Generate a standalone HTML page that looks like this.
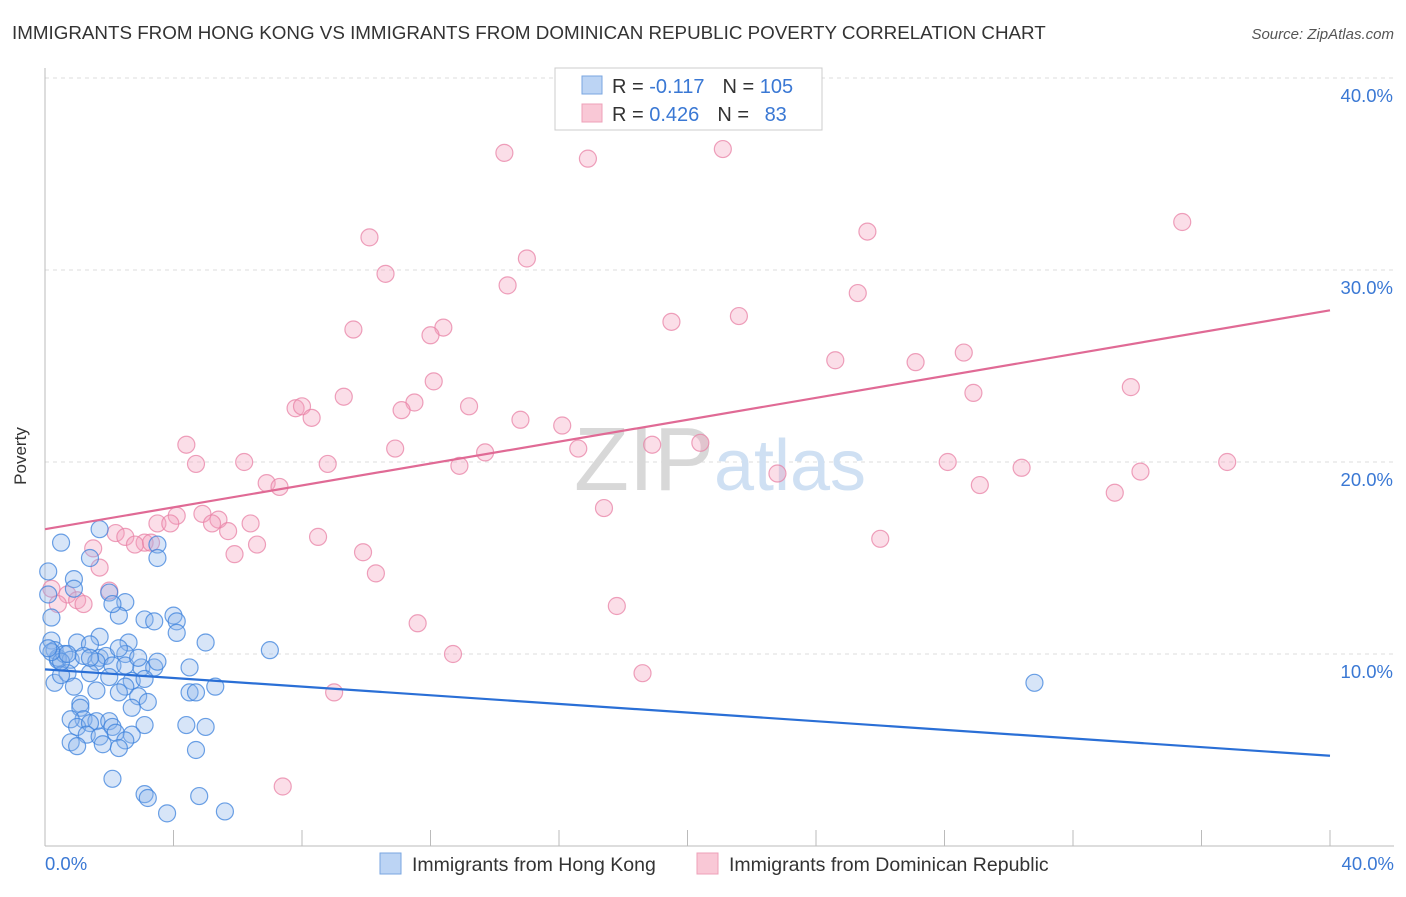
<!DOCTYPE html>
<html><head><meta charset="utf-8"><style>
body{margin:0;background:#fff;font-family:"Liberation Sans",sans-serif;}
svg text{font-family:"Liberation Sans",sans-serif;}
</style></head><body>
<svg width="1406" height="892" xmlns="http://www.w3.org/2000/svg" id="chart">
<text x="12" y="39" font-size="18.8" fill="#333">IMMIGRANTS FROM HONG KONG VS IMMIGRANTS FROM DOMINICAN REPUBLIC POVERTY CORRELATION CHART</text>
<text x="1394" y="39" font-size="15" fill="#555" text-anchor="end" font-style="italic">Source: ZipAtlas.com</text>
<g id="grid"></g>
<text x="720" y="490" font-size="90" fill="#ddd" text-anchor="middle" font-family="Liberation Serif"><tspan fill="#d8d8d8">ZIP</tspan><tspan fill="#cfe0f3" font-family="Liberation Sans" font-size="72">atlas</tspan></text>
<line x1="45" y1="68" x2="45" y2="846" stroke="#bbb"/>
<line x1="45" y1="846" x2="1394" y2="846" stroke="#bbb"/>
<g id="xticks"></g>
<g id="pts"></g>
<g id="trends"></g>
<text x="26" y="456" font-size="17" fill="#333" text-anchor="middle" transform="rotate(-90 26 456)">Poverty</text>
<text x="45" y="870" font-size="18.5" fill="#3a78d4">0.0%</text>
<text x="1394" y="870" font-size="18.5" fill="#3a78d4" text-anchor="end">40.0%</text>
<g>
<rect x="555" y="68" width="267" height="62" fill="#fff" stroke="#ccc"/>
<rect x="582" y="76" width="20" height="18" fill="#bcd4f4" stroke="#7aa6e0"/>
<rect x="582" y="104" width="20" height="18" fill="#f9c8d6" stroke="#eea0b8"/>
<text x="612" y="93" font-size="20" fill="#333">R = <tspan fill="#3a78d4">-0.117</tspan><tspan dx="18">N = </tspan><tspan fill="#3a78d4">105</tspan></text>
<text x="612" y="121" font-size="20" fill="#333">R = <tspan fill="#3a78d4">0.426</tspan><tspan dx="18">N = </tspan><tspan fill="#3a78d4" dx="10">83</tspan></text>
</g>
<g>
<rect x="380" y="853" width="21" height="21" fill="#bcd4f4" stroke="#7aa6e0"/>
<text x="412" y="871" font-size="19.5" fill="#333">Immigrants from Hong Kong</text>
<rect x="697" y="853" width="21" height="21" fill="#f9c8d6" stroke="#eea0b8"/>
<text x="729" y="871" font-size="19.5" fill="#333">Immigrants from Dominican Republic</text>
</g>
</svg>
<script>
const yTicks=[10,20,30,40];
const yTickLabels=["10.0%","20.0%","30.0%","40.0%"];
const xTicks=[0,4,8,12,16,20,24,28,32,36,40];
const pinkX=[14.3,16.9,21.1,10.1,25.6,35.4,10.6,15,14.4,25.3,9.6,12.4,12,19.5,21.6,24.6,27.1,28.6,33.8,28.9,12.1,9.3,7.8,8,8.3,11.5,11.1,13.2,14.8,16.1,4.4,10.9,13.7,16.6,18.9,20.4,4.7,6.2,8.8,12.9,22.8,28.1,30.4,34.1,36.8,6.9,7.3,29.1,33.3,17.4,4.1,4.9,5.4,6.4,3.5,3.9,5.2,5.7,2.2,2.5,3.1,2.8,3.3,6.6,8.5,1.5,9.9,5.9,26,1.7,10.3,2,0.2,0.7,1,1.2,0.4,17.8,11.6,12.7,18.6,9,7.4];
const pinkY=[36.1,35.8,36.3,31.7,32,32.5,29.8,30.6,29.2,28.8,26.9,27,26.6,27.3,27.6,25.3,25.2,25.7,23.9,23.6,24.2,23.4,22.8,22.9,22.3,23.1,22.7,22.9,22.2,21.9,20.9,20.7,20.5,20.7,20.9,21,19.9,20,19.9,19.8,19.4,20,19.7,19.5,20,18.9,18.7,18.8,18.4,17.6,17.2,17.3,17,16.8,16.8,16.8,16.8,16.4,16.3,16.1,15.8,15.7,15.8,15.7,16.1,15.5,15.3,15.2,16,14.5,14.2,13.3,13.4,13.1,12.8,12.6,12.6,12.5,11.6,10,9,8,3.1];
const blueX=[0.1,0.1,0.2,0.2,0.3,0.4,0.3,0.5,1.7,1.4,3.5,3.5,0.9,0.9,2,2.5,2.3,3.1,3.4,4,4.1,4.1,5,7,30.8,1.7,1,1.4,2.6,0.4,0.6,0.8,1.2,1.7,1.9,2.5,1.6,2.1,2.5,3,3.4,3.5,4.5,0.7,0.5,1.4,2,2.7,3.1,2.5,0.9,1.6,2.3,2.9,3.2,4.5,4.7,5.3,1.1,1.1,2.7,1.2,0.8,1.6,1,1.4,2,2.1,3.1,4.4,5,1.3,2.2,1.7,2.7,0.8,1,1.8,2.5,2.3,4.7,2.1,3.1,3.2,4.8,3.8,5.6,0.5,0.2,0.1,0.7,2.3,2.1,1.4,2.9];
const blueY=[14.3,13.1,11.9,10.7,10.2,9.7,8.5,15.8,16.5,15,15.7,15,13.9,13.4,13.2,12.7,12,11.8,11.7,12,11.7,11.1,10.6,10.2,8.5,10.9,10.6,10.5,10.6,9.8,10,9.7,9.9,9.8,9.9,10,9.6,9.4,9.4,9.3,9.3,9.6,9.3,9,8.9,9,8.8,8.6,8.7,8.3,8.3,8.1,8,7.8,7.5,8,8,8.3,7.4,7.2,7.2,6.6,6.6,6.5,6.2,6.4,6.5,6.2,6.3,6.3,6.2,5.8,5.9,5.7,5.8,5.4,5.2,5.3,5.5,5.1,5,3.5,2.7,2.5,2.6,1.7,1.8,9.6,10.1,10.3,10,10.3,12.6,9.8,9.8];
const blueTrend=[0,9.2,40,4.7];
const pinkTrend=[0,16.5,40,27.9];
const X0=45,X1=1330,Y0=846,PY=19.2;
const sx=v=>X0+(X1-X0)*v/40, sy=v=>Y0-v*PY;
const NS="http://www.w3.org/2000/svg";
const mk=(t,a,p)=>{const e=document.createElementNS(NS,t);for(const k in a)e.setAttribute(k,a[k]);p.appendChild(e);return e;};
const grid=document.getElementById('grid');
yTicks.forEach((t,i)=>{
 const l=mk('line',{x1:45,x2:1394,y1:sy(t),y2:sy(t),stroke:'#ddd','stroke-dasharray':'4,4'},grid);
 
 
 const tx=mk('text',{x:1393,y:sy(t)+24,'font-size':18.5,fill:'#3a78d4','text-anchor':'end'},grid);
 tx.textContent=yTickLabels[i];
 
 
});
const xt=document.getElementById('xticks');
xTicks.forEach(t=>{
 const l=mk('line',{x1:sx(t),x2:sx(t),y1:846,y2:830,stroke:'#bbb'},xt);
 
 
});
const pts=document.getElementById('pts');
pinkX.forEach((x,i)=>{
 const c=mk('circle',{cx:sx(x),cy:sy(pinkY[i]),r:8.5,fill:'rgba(244,160,190,0.35)',stroke:'rgba(232,130,165,0.75)','stroke-width':1.2},pts);
 
 
});
blueX.forEach((x,i)=>{
 const c=mk('circle',{cx:sx(x),cy:sy(blueY[i]),r:8.5,fill:'rgba(140,180,235,0.35)',stroke:'rgba(60,130,220,0.75)','stroke-width':1.2},pts);
 
 
});
const tr=document.getElementById('trends');
const bl=mk('line',{x1:sx(blueTrend[0]),y1:sy(blueTrend[1]),x2:sx(blueTrend[2]),y2:sy(blueTrend[3]),stroke:'#2a6fd6','stroke-width':2.2},tr);


const pl=mk('line',{x1:sx(pinkTrend[0]),y1:sy(pinkTrend[1]),x2:sx(pinkTrend[2]),y2:sy(pinkTrend[3]),stroke:'#e06a95','stroke-width':2.2},tr);


</script>
</body></html>
